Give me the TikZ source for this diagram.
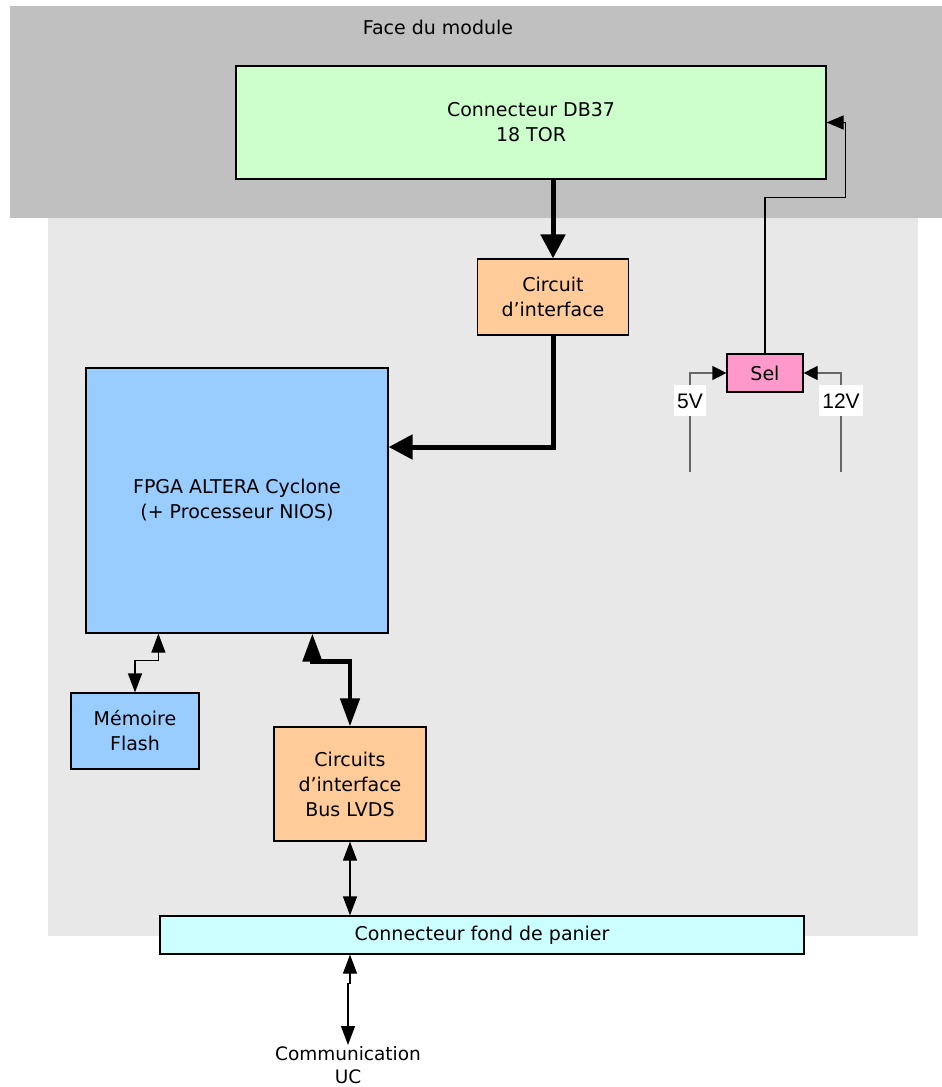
\documentclass[tikz,border=0pt]{standalone}
\usepackage{fontspec}
\setmainfont{DejaVu Sans}
\newfontfamily\arialfont{Liberation Sans}
\usepackage{tikz}
\usetikzlibrary{arrows.meta}

\definecolor{faceGray}{HTML}{C0C0C0}
\definecolor{bodyGray}{HTML}{E8E8E8}
\definecolor{dbGreen}{HTML}{CCFFCC}
\definecolor{itfOrange}{HTML}{FFCC99}
\definecolor{fpgaBlue}{HTML}{99CCFF}
\definecolor{selPink}{HTML}{FF99CC}
\definecolor{fondCyan}{HTML}{CCFFFF}

\begin{document}
\begin{tikzpicture}[x=1pt, y=-1pt,
  box/.style={draw=black, line width=1.2pt, inner sep=0pt, align=center,
    font=\fontsize{19}{25}\selectfont},
  bus/.style={line width=5pt, -{Triangle[width=24pt,length=24pt]}},
  busboth/.style={line width=4.5pt,
    {Triangle[width=19pt,length=28pt]}-{Triangle[width=19pt,length=28pt]}},
  link/.style={line width=1.2pt,
    {Triangle[width=14pt,length=19pt]}-{Triangle[width=14pt,length=19pt]}},
  pwr/.style={line width=1.2pt, draw=black!60,
    -{Triangle[width=14pt,length=14pt,color=black]}},
  volt/.style={fill=white, inner xsep=3pt, inner ysep=0pt, text height=23pt, text depth=8pt,
    font=\arialfont\fontsize{21}{24}\selectfont}]
\useasboundingbox (0,0) rectangle (942,1087);
\fill[faceGray] (10,6) rectangle (942,218);
\fill[bodyGray] (48,218) rectangle (918,936);
\node [font=\fontsize{19}{22}\selectfont] (face) at (438,27) {Face du module};

\node [box, fill=dbGreen, minimum width=590pt, minimum height=113pt] (db37) at (531,122.5) {Connecteur DB37\\18 TOR};
\node [box, fill=itfOrange, minimum width=151pt, minimum height=76pt] (circ) at (553,297) {Circuit\\d'interface};
\node [box, fill=fpgaBlue, minimum width=302pt, minimum height=265pt] (fpga) at (237,500.5) {FPGA ALTERA Cyclone\\(+ Processeur NIOS)};
\node [box, fill=fpgaBlue, minimum width=128pt, minimum height=76pt] (flash) at (135,731) {Mémoire\\Flash};
\node [box, fill=itfOrange, minimum width=152pt, minimum height=114pt] (circs) at (350,784) {Circuits\\d'interface\\Bus LVDS};
\node [box, fill=fondCyan, minimum width=644pt, minimum height=38pt] (fond) at (482,935) {Connecteur fond de panier};
\node [box, fill=selPink, minimum width=76pt, minimum height=38pt] (sel) at (765,373) {Sel};
\node [anchor=north, inner sep=1pt, align=center, font=\fontsize{18.5}{23}\selectfont] (comm) at (348,1045) {Communication\\UC};

\coordinate (in5) at (690,472);
\coordinate (in12) at (841,472);

\draw[bus] (circ.north |- db37.south) -- (circ.north);
\draw[bus] (circ.south) |- ([yshift=53.5pt]fpga.east);
\draw[busboth] ([xshift=227pt]fpga.south west) -- ++(0,28) -| (circs.north);
\draw[link] (flash.north) -- ++(0,-32) -| ([xshift=73pt]fpga.south west);
\draw[link] (circs.south) -- (circs.south |- fond.north);
\draw[link] (circs.south |- fond.south) -- ++(0,29) -| (comm.north);

\draw[line width=1.2pt, -{Triangle[width=14pt,length=17pt]}] (sel.north) -- ++(0,-156) -| ([xshift=19pt]db37.east) -- (db37.east);
\draw[pwr] (in5) |- node[pos=.36, volt] (v5) {5V} (sel.west);
\draw[pwr] (in12) |- node[pos=.36, volt] (v12) {12V} (sel.east);
\end{tikzpicture}
\end{document}
